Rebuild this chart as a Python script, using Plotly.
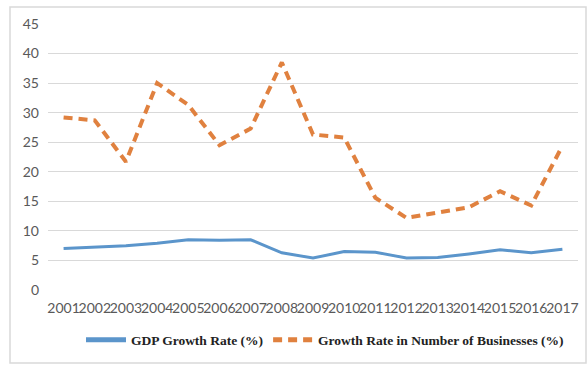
import plotly.graph_objects as go

years = [str(y) for y in range(2001, 2018)]
gdp_growth = [7.0, 7.2, 7.5, 7.9, 8.5, 8.4, 8.5, 6.3, 5.4, 6.5, 6.4, 5.4, 5.5, 6.1, 6.8, 6.3, 6.9]
business_growth = [29.2, 28.7, 21.7, 35.0, 31.3, 24.5, 27.3, 38.5, 26.3, 25.8, 15.6, 12.2, 13.1, 14.0, 16.7, 14.3, 24.4]
y_ticks = [0, 5, 10, 15, 20, 25, 30, 35, 40, 45]

fig = go.Figure()
fig.add_trace(go.Scatter(
    x=years, y=gdp_growth, mode="lines", name="<b>GDP Growth Rate (%)</b>",
    line=dict(color="#5B95CB", width=3),
))
fig.add_trace(go.Scatter(
    x=years, y=business_growth, mode="lines", name="<b>Growth Rate in Number of Businesses (%)</b>",
    line=dict(color="#E0813F", width=4, dash="9px,6px"),
))

ml, mr, mt, mb = 48, 9, 24, 75
W, H = 587, 365
pw, ph = W - ml - mr, H - mt - mb

fig.update_layout(
    width=W, height=H,
    margin=dict(l=ml, r=mr, t=mt, b=mb),
    paper_bgcolor="white", plot_bgcolor="white",
    showlegend=True,
    legend=dict(
        orientation="h", x=(81 - ml) / pw, xanchor="left", y=(290 - 340) / ph, yanchor="middle",
        font=dict(family="Liberation Serif", size=13.5, color="#222222"),
        itemwidth=40, itemsizing="constant",
    ),
    xaxis=dict(
        type="category", range=[-0.5, len(years) - 0.5],
        showgrid=False, showline=False, ticks="",
        tickfont=dict(family="Lato", size=14, color="#595959"),
        tickangle=0, ticklabelstandoff=8,
    ),
    yaxis=dict(
        range=[0, 45], tickvals=y_ticks, showgrid=True, gridcolor="#D9D9D9", gridwidth=1,
        zeroline=False, showline=False, ticks="",
        tickfont=dict(family="Lato", size=14, color="#595959"),
        ticklabelstandoff=8,
    ),
    shapes=[dict(
        type="rect", xref="paper", yref="paper",
        x0=(10 - ml) / pw, x1=(586 - ml) / pw,
        y0=(290 - 363) / ph, y1=(290 - 7) / ph,
        line=dict(color="#D9D9D9", width=1.5), fillcolor="rgba(0,0,0,0)", layer="below",
    )],
)

fig.write_html("out.html")
